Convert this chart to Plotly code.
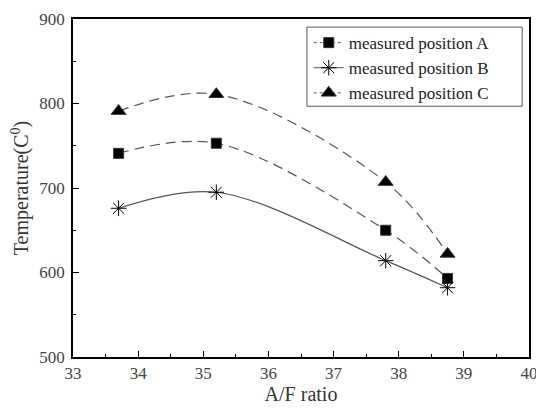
import plotly.graph_objects as go

af_ratio = [33.7, 35.2, 37.8, 38.75]
pos_a = [741, 753, 650, 593]
pos_b = [676, 695, 614, 582]
pos_c = [791, 811, 707, 622]

series = [
    ("measured position A", pos_a, "square", 10, "dash"),
    ("measured position B", pos_b, "asterisk-open", 13, "solid"),
    ("measured position C", pos_c, "triangle-up", 13, "dash"),
]

font = "Liberation Serif"
line_col = "#555555"

fig = go.Figure()
for name, vals, sym, size, dash in series:
    fig.add_trace(go.Scatter(
        x=af_ratio, y=vals, mode="lines+markers", name=name, showlegend=False,
        line=dict(color=line_col, width=1.2, dash="10px,6px" if dash == "dash" else "solid",
                  shape="spline", smoothing=1.0),
        marker=dict(symbol=sym, size=size, color="black",
                    line=dict(color="#333333", width=1)),
    ))
    # legend-only entry
    fig.add_trace(go.Scatter(
        x=[None], y=[None], mode="lines+markers", name=name,
        line=dict(color=line_col, width=1, dash="solid" if dash == "solid" else "dot"),
        marker=dict(symbol=sym, size=size, color="black",
                    line=dict(color="#333333", width=1)),
    ))

axis_common = dict(
    showgrid=False, zeroline=False, showline=True, linecolor="black", linewidth=1.5,
    mirror=True, ticks="inside", ticklen=6, tickwidth=1.2, tickcolor="black",
    tickfont=dict(family=font, size=17, color="#444444"), automargin=False,
)

# page body adds an 8px offset, so the figure is 8px smaller than the window
fig.update_layout(
    width=536, height=406,
    margin=dict(l=65, r=15, t=11, b=57),
    paper_bgcolor="white", plot_bgcolor="white",
    font=dict(family=font, size=17, color="#333333"),
    xaxis=dict(range=[33, 40], dtick=1, minor=dict(dtick=0.5, ticks="inside", ticklen=3, tickcolor="black"),
               title=dict(text="A/F ratio", font=dict(family=font, size=20), standoff=5),
               ticklabelstandoff=0, **axis_common),
    yaxis=dict(range=[500, 900], dtick=100, minor=dict(dtick=50, ticks="inside", ticklen=3, tickcolor="black"),
               title=dict(text="Temperature(C<sup>0</sup>)", font=dict(family=font, size=20), standoff=7),
               ticklabelstandoff=3, **axis_common),
    legend=dict(x=0.517, y=0.982, xanchor="left", yanchor="top",
                borderwidth=0, bgcolor="rgba(0,0,0,0)",
                font=dict(family=font, size=17, color="#222222"),
                tracegroupgap=0, itemwidth=30),
    shapes=[dict(type="rect", xref="paper", yref="paper", x0=0.513, x1=0.985, y0=0.742, y1=0.976,
                 line=dict(color="#555555", width=1), fillcolor="rgba(0,0,0,0)", layer="above")],
)

fig.write_html("out.html")
